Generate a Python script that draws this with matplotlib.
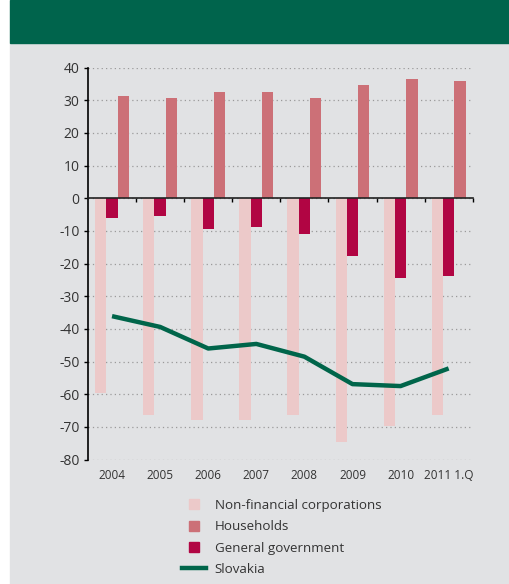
import numpy as np
import matplotlib.pyplot as plt
from matplotlib.lines import Line2D
from matplotlib.patches import Rectangle

plt.rcParams['font.family'] = ['Open Sans', 'DejaVu Sans']
plt.rcParams['axes.unicode_minus'] = False

years = ['2004', '2005', '2006', '2007', '2008', '2009', '2010', '2011 1.Q']
non_financial = [-59.5, -66.3, -67.8, -67.8, -66.3, -74.5, -69.6, -66.3]
households = [31.2, 30.6, 32.4, 32.4, 30.6, 34.6, 36.4, 35.8]
general_gov = [-6.0, -5.4, -9.4, -8.8, -10.9, -17.6, -24.4, -23.8]
slovakia = [-36.1, -39.4, -46.0, -44.6, -48.5, -56.9, -57.5, -52.1]

c_nfc = '#ecc9c9'
c_hh = '#cc7077'
c_gg = '#b10543'
c_line = '#00654a'
bg = '#e1e2e4'
txt = '#333333'

fig = plt.figure(figsize=(5.1, 5.84), dpi=100, facecolor='white')
# page background and header band
fig.patches.append(Rectangle((10 / 510, 0), 500 / 510, 1 - 43 / 584,
                             transform=fig.transFigure, color=bg, zorder=-10))
fig.patches.append(Rectangle((10 / 510, 1 - 43 / 584), 500 / 510, 43 / 584,
                             transform=fig.transFigure, color='#00644c', zorder=-10))

ax = fig.add_axes([88 / 510, 1 - 459.6 / 584, 384.7 / 510, 392.1 / 584])
ax.set_facecolor('none')

x = np.arange(len(years))
w = 0.235
ax.bar(x - w, non_financial, w, color=c_nfc, zorder=2)
ax.bar(x + w, households, w, color=c_hh, zorder=2)
ax.bar(x, general_gov, w, color=c_gg, zorder=2)
ax.plot(x, slovakia, color=c_line, lw=3.2, zorder=3, solid_capstyle='butt')

ax.set_xlim(-0.5, len(years) - 0.5)
ax.set_ylim(-80, 40)
ax.set_yticks(np.arange(-80, 41, 10))
ax.yaxis.grid(True, color='#9a9a9a', linestyle=(0, (1, 2.5)), lw=0.9, zorder=1)
ax.set_axisbelow(True)
ax.tick_params(axis='y', direction='out', length=3, width=1, colors='black',
               labelcolor=txt, labelsize=10, pad=3)

for s in ['top', 'right']:
    ax.spines[s].set_visible(False)
ax.spines['left'].set_linewidth(1.2)
ax.spines['bottom'].set_position(('data', 0))
ax.spines['bottom'].set_color('#222222')
ax.spines['bottom'].set_linewidth(1.2)
ax.spines['bottom'].set_zorder(4)
ax.set_xticks(x + 0.5)
ax.set_xticklabels([])
ax.tick_params(axis='x', direction='out', length=3, width=1, colors='black')

# category labels below the plot
sec = ax.secondary_xaxis('bottom')
sec.set_xticks(x)
sec.set_xticklabels(years)
sec.spines['bottom'].set_visible(False)
sec.tick_params(axis='x', length=0, pad=7, labelsize=8.5, labelcolor=txt)

handles = [
    Line2D([], [], marker='s', linestyle='none', markersize=7.2, color=c_nfc),
    Line2D([], [], marker='s', linestyle='none', markersize=7.2, color=c_hh),
    Line2D([], [], marker='s', linestyle='none', markersize=7.2, color=c_gg),
    Line2D([], [], color=c_line, lw=3.2),
]
labels = ['Non-financial corporations', 'Households', 'General government', 'Slovakia']
leg = fig.legend(handles, labels, loc='upper left', bbox_to_anchor=(182 / 510, 1 - 499 / 584),
                 frameon=False, fontsize=9.6, handlelength=1.8, handletextpad=0.65,
                 labelspacing=0.62, borderpad=0, borderaxespad=0)
for t in leg.get_texts():
    t.set_color(txt)

fig.savefig('out.png', dpi=100, facecolor=fig.get_facecolor())
